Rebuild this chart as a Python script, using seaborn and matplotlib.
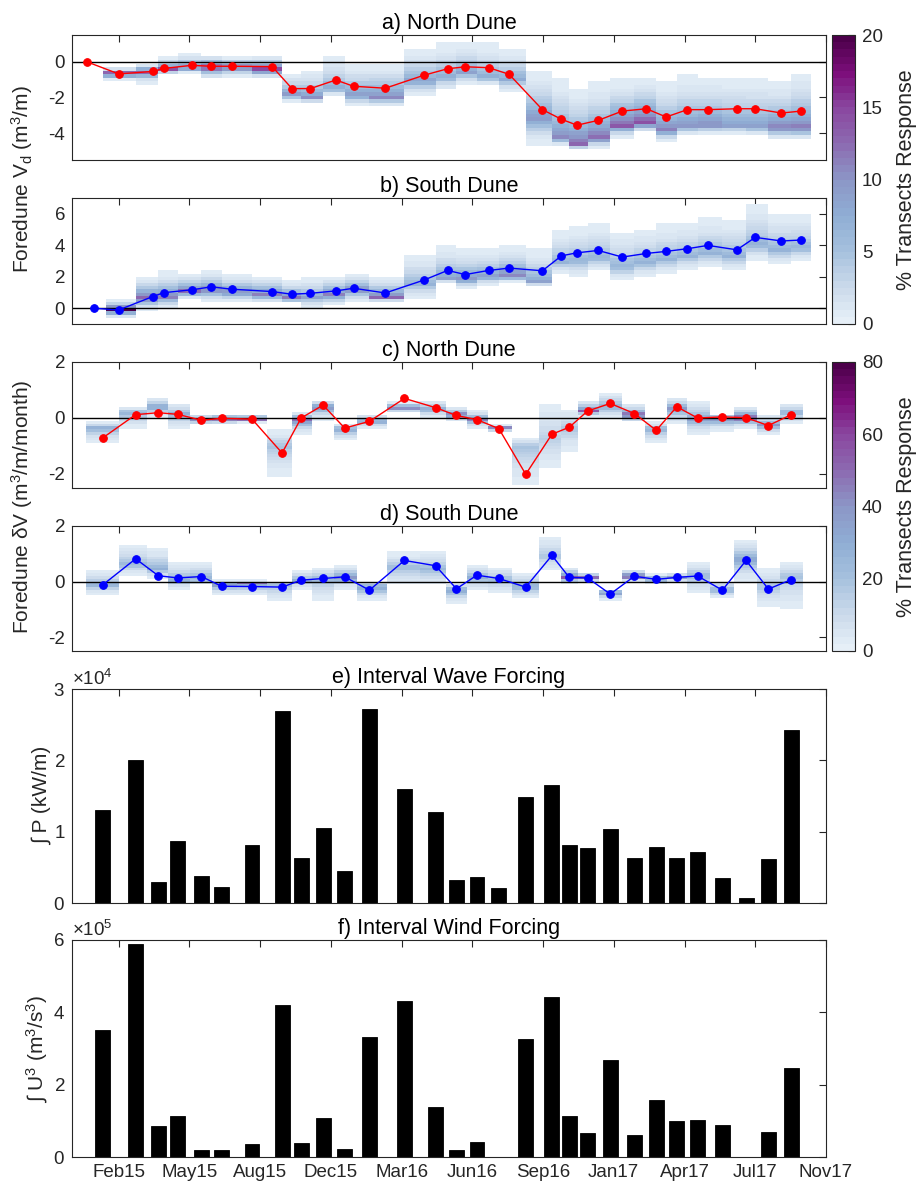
import numpy as np
import matplotlib
matplotlib.use("Agg")
import matplotlib.pyplot as plt
import seaborn as sns
from matplotlib.colors import LinearSegmentedColormap, ListedColormap

# ---------------- data ----------------
# survey dates: days since 2015-01-01
survey_day_north = [-10, 35, 83, 99, 138, 166, 195, 252, 280, 306, 342, 367, 412, 466, 500, 525,
                    558, 587, 634, 661, 683, 713, 747, 781, 809, 839, 868, 909, 935, 972, 1000]
survey_day_south = [0, 35, 83, 99, 138, 166, 195, 252, 280, 306, 342, 367, 412, 466, 500, 525,
                    558, 587, 634, 661, 683, 713, 747, 781, 809, 839, 868, 909, 935, 972, 1000]

north_vd = [0, -0.68, -0.54, -0.37, -0.20, -0.25, -0.25, -0.27, -1.50, -1.50, -1.02, -1.37, -1.48,
            -0.76, -0.39, -0.28, -0.33, -0.70, -2.68, -3.22, -3.55, -3.28, -2.76, -2.63, -3.09,
            -2.68, -2.68, -2.63, -2.63, -2.87, -2.76]
south_vd = [0, -0.11, 0.74, 0.99, 1.17, 1.36, 1.21, 1.06, 0.89, 0.95, 1.10, 1.27, 0.97, 1.78, 2.40,
            2.14, 2.40, 2.55, 2.38, 3.33, 3.52, 3.67, 3.25, 3.48, 3.61, 3.78, 3.99, 3.71, 4.50,
            4.27, 4.33]

north_rate = [-0.71, 0.12, 0.19, 0.13, -0.08, -0.01, -0.04, -1.25, 0.00, 0.46, -0.36, -0.12, 0.70,
              0.37, 0.09, -0.06, -0.38, -2.01, -0.58, -0.33, 0.25, 0.52, 0.16, -0.44, 0.40, 0.00,
              0.04, 0.01, -0.27, 0.12]
south_rate = [-0.12, 0.82, 0.21, 0.13, 0.18, -0.17, -0.18, -0.20, 0.05, 0.11, 0.17, -0.31, 0.76,
              0.57, -0.26, 0.23, 0.11, -0.20, 0.94, 0.15, 0.13, -0.45, 0.19, 0.08, 0.15, 0.20,
              -0.31, 0.76, -0.27, 0.07]

wave_forcing = [1.30e4, 2.01e4, 0.29e4, 0.87e4, 0.38e4, 0.22e4, 0.81e4, 2.69e4, 0.63e4, 1.05e4,
                0.45e4, 2.72e4, 1.60e4, 1.28e4, 0.32e4, 0.37e4, 0.21e4, 1.48e4, 1.65e4, 0.82e4,
                0.77e4, 1.04e4, 0.63e4, 0.79e4, 0.63e4, 0.71e4, 0.35e4, 0.07e4, 0.62e4, 2.43e4]
wind_forcing = [3.50e5, 5.90e5, 0.85e5, 1.13e5, 0.18e5, 0.18e5, 0.35e5, 4.20e5, 0.38e5, 1.07e5,
                0.22e5, 3.33e5, 4.30e5, 1.37e5, 0.18e5, 0.42e5, 0.0, 3.27e5, 4.42e5, 1.12e5,
                0.65e5, 2.67e5, 0.60e5, 1.57e5, 1.00e5, 1.03e5, 0.88e5, 0.0, 0.70e5, 2.45e5]

# transect-response distributions per column: extent (lo, hi), modal value and modal % of transects
a_lo = [-1.05, -1.2, -0.74, -0.6, -0.96, -0.83, -0.93, -2.28, -2.3, -1.94, -2.46, -2.5, -1.85, -1.57,
        -1.3, -1.3, -1.65, -4.63, -4.72, -4.94, -4.8, -4.26, -3.98, -4.44, -4.17, -4.07, -4.07,
        -4.17, -4.35, -4.37]
a_hi = [-0.3, -0.09, 0.24, 0.43, 0.37, 0.28, 0.33, -0.61, -0.46, 0.24, -0.09, -0.06, 0.69, 1.02,
        1.02, 1.0, 0.76, -0.55, -0.98, -1.48, -1.2, -0.98, -0.83, -1.2, -0.74, -0.87, -0.87, -0.87,
        -1.1, -0.61]
a_mode = [-0.65, -0.55, -0.42, -0.35, -0.3, -0.3, -0.45, -1.85, -2.05, -1.5, -1.9, -2.0, -1.1, -0.9,
          -0.6, -0.9, -1.0, -3.15, -4.26, -4.63, -4.31, -3.61, -3.46, -3.87, -3.61, -3.57, -3.6,
          -3.65, -3.74, -3.74]
a_pct = [17, 15, 15, 12, 16, 14, 17, 10, 11, 8, 10, 11, 9, 8, 9, 8, 8, 10, 11, 13, 13, 14, 15, 12,
         10, 11, 9, 9, 12, 12]

b_lo = [-0.57, -0.11, 0.0, 0.57, 0.42, 0.42, 0.36, 0.32, 0.1, 0.2, 0.42, 0.42, 0.64, 1.59, 1.27,
        1.5, 1.7, 1.33, 2.2, 2.06, 2.33, 1.8, 1.97, 2.2, 2.43, 2.6, 2.4, 3.08, 2.82, 3.08]
b_hi = [0.53, 2.06, 2.33, 2.22, 2.43, 2.22, 2.06, 1.8, 1.91, 2.06, 2.22, 2.0, 3.4, 3.97, 3.7, 3.7,
        3.93, 3.7, 4.98, 5.15, 5.3, 4.88, 5.09, 5.3, 5.45, 5.73, 5.6, 6.58, 5.94, 5.94]
b_mode = [-0.1, 0.64, 0.73, 1.06, 1.17, 1.0, 0.85, 0.64, 0.7, 0.85, 1.17, 0.64, 1.5, 1.9, 1.8, 2.0,
          2.0, 1.7, 2.9, 3.0, 3.2, 2.6, 2.9, 3.1, 3.3, 3.5, 3.3, 4.0, 3.7, 3.8]
b_pct = [20, 14, 12, 13, 12, 11, 12, 13, 9, 12, 11, 14, 7, 9, 11, 10, 12, 9, 7, 7, 7, 7, 7, 7, 7,
         7, 7, 7, 7, 7]

c_lo = [-0.86, -0.35, 0.01, -0.35, -0.2, -0.23, -0.15, -2.1, -0.56, -0.06, -0.8, -0.35, 0.16, 0.04,
        -0.08, -0.35, -0.49, -2.39, -1.76, -1.16, 0.04, -0.02, -0.14, -0.86, -0.24, -0.56, -0.47,
        -0.35, -0.58, -0.18]
c_hi = [-0.1, 0.42, 0.73, 0.54, 0.13, 0.13, 0.1, -0.44, 0.21, 0.63, -0.2, 0.13, 0.55, 0.63, 0.42,
        0.25, -0.25, -0.74, 0.54, 0.34, 0.63, 0.93, 0.51, -0.14, 0.73, 0.63, 0.13, 0.42, 0.13, 0.54]
c_mode = [-0.37, 0.2, 0.4, 0.15, -0.08, -0.02, -0.02, -1.0, -0.05, 0.4, -0.4, -0.1, 0.38, 0.3, 0.1,
          -0.05, -0.38, -1.0, -0.8, -0.4, 0.25, 0.4, 0.1, -0.4, 0.35, -0.05, 0.0, 0.0, -0.25, 0.2]
c_pct = [30, 30, 35, 30, 55, 60, 80, 20, 50, 45, 35, 40, 55, 35, 55, 45, 70, 20, 15, 20, 55, 30,
         60, 30, 40, 35, 45, 60, 40, 30]

d_lo = [-0.46, 0.21, 0.1, -0.29, -0.14, -0.46, -0.46, -0.68, -0.26, -0.68, -0.26, -0.68, -0.14,
        -0.14, -0.78, -0.32, -0.38, -0.58, 0.39, -0.06, 0.0, -0.65, 0.03, -0.06, 0.0, -0.38, -0.58,
        0.01, -0.86, -0.98]
d_hi = [0.42, 1.32, 1.2, 0.73, 0.73, 0.06, 0.06, 0.04, 0.42, 0.54, 0.6, 0.04, 1.05, 1.1, -0.08,
        0.61, 0.51, 0.33, 1.64, 0.54, 0.33, -0.26, 0.42, 0.25, 0.33, 0.73, 0.01, 1.52, 0.51, 0.73]
d_mode = [-0.12, 0.6, 0.45, 0.05, 0.1, -0.1, -0.05, -0.1, 0.05, 0.1, 0.15, -0.2, 0.5, 0.45, -0.3,
          0.15, 0.1, -0.2, 0.9, 0.15, 0.15, -0.4, 0.18, 0.1, 0.15, 0.2, -0.3, 0.8, -0.2, 0.2]
d_pct = [30, 25, 30, 30, 30, 45, 50, 25, 30, 25, 40, 35, 25, 25, 35, 30, 25, 30, 20, 55, 50, 50,
         70, 45, 35, 25, 30, 35, 20, 20]

tick_days = [35, 135, 235, 335, 435, 535, 635, 735, 835, 935, 1035]
tick_labels = ["Feb15", "May15", "Aug15", "Dec15", "Mar16", "Jun16", "Sep16", "Jan17", "Apr17",
               "Jul17", "Nov17"]

# ---------------- style ----------------
sns.set_theme(style="white")
plt.rcParams["font.family"] = ["Liberation Sans", "DejaVu Sans"]
plt.rcParams["axes.unicode_minus"] = False
plt.rcParams["mathtext.fontset"] = "custom"
plt.rcParams["mathtext.rm"] = "Liberation Sans"
plt.rcParams["mathtext.it"] = "Liberation Sans:italic"
plt.rcParams["mathtext.default"] = "regular"
TXT = "#262626"

cols = ["#e6eff7", "#c8d8ea", "#a5c0dd", "#8fadd4", "#8c96c6", "#8c6bb1", "#8a48a0",
        "#7d0f7c", "#4d004b"]
cmap = ListedColormap(LinearSegmentedColormap.from_list("bupu_m", cols)(np.linspace(0, 1, 40)))

W, H = 922, 1184
fig = plt.figure(figsize=(W / 100, H / 100), dpi=100)


def rect(x0, y0, x1, y1):
    return [x0 / W, 1 - y1 / H, (x1 - x0) / W, (y1 - y0) / H]


def style_axes(ax, xlabels=False):
    ax.set_xlim(-31, 1035)
    ax.set_xticks(tick_days)
    ax.set_xticklabels(tick_labels if xlabels else [])
    ax.tick_params(direction="in", top=True, right=True, length=5, width=0.8, colors=TXT,
                   labelsize=13.5, pad=5)
    for s in ax.spines.values():
        s.set_linewidth(0.8)
        s.set_color(TXT)
    ax.set_xlabel("")
    ax.set_ylabel("")


def mids(v):
    v = np.asarray(v, float)
    return 0.5 * (v[:-1] + v[1:])


def edges_from_centers(c):
    c = np.asarray(c, float)
    m = mids(c)
    return np.concatenate([[c[0] - (m[0] - c[0])], m, [c[-1] + (c[-1] - m[-1])]])


def heat_grid(lo, hi, mode, pct, y_edges, floor):
    yc = mids(y_edges)
    Z = np.zeros((len(yc), len(lo)))
    for j, (l, h, p, k) in enumerate(zip(lo, hi, mode, pct)):
        d = np.where(yc < p, (p - yc) / max(p - l, 1e-6), (yc - p) / max(h - p, 1e-6))
        w = np.clip(1 - d, 0, 1) ** 2
        inside = (yc >= l - 1e-9) & (yc <= h + 1e-9)
        Z[inside, j] = floor + (k - floor) * w[inside]
    return np.ma.masked_less_equal(Z, 0)


rate_day = mids(survey_day_north)

# ---------------- panel a ----------------
ax_a = fig.add_axes(rect(72, 35, 826, 160))
xe_a = np.concatenate([mids(survey_day_north),
                       [survey_day_north[-1] + (survey_day_north[-1] - mids(survey_day_north)[-1])]])
ye_a = np.arange(-5.5, 1.5001, 0.2)
mesh1 = ax_a.pcolormesh(xe_a, ye_a, heat_grid(a_lo, a_hi, a_mode, a_pct, ye_a, 0.6),
                        cmap=cmap, vmin=0, vmax=20, shading="flat", zorder=1)
ax_a.axhline(0, color="black", lw=1, zorder=2)
sns.lineplot(x=survey_day_north, y=north_vd, ax=ax_a, color="red", marker="o", markersize=5.5,
             markeredgecolor="red", linewidth=1, zorder=4)
ax_a.set_ylim(-5.5, 1.5)
ax_a.set_yticks([-4, -2, 0])
style_axes(ax_a)
ax_a.set_title("a) North Dune", fontsize=15.5, color="black", pad=4)

# ---------------- panel b ----------------
ax_b = fig.add_axes(rect(72, 198, 826, 324))
xe_b = np.concatenate([mids(survey_day_south),
                       [survey_day_south[-1] + (survey_day_south[-1] - mids(survey_day_south)[-1])]])
ye_b = np.arange(-1.0, 7.0001, 0.2)
ax_b.pcolormesh(xe_b, ye_b, heat_grid(b_lo, b_hi, b_mode, b_pct, ye_b, 0.6),
                cmap=cmap, vmin=0, vmax=20, shading="flat", zorder=1)
ax_b.axhline(0, color="black", lw=1, zorder=2)
sns.lineplot(x=survey_day_south, y=south_vd, ax=ax_b, color="blue", marker="o", markersize=5.5,
             markeredgecolor="blue", linewidth=1, zorder=4)
ax_b.set_ylim(-1, 7)
ax_b.set_yticks([0, 2, 4, 6])
style_axes(ax_b)
ax_b.set_title("b) South Dune", fontsize=15.5, color="black", pad=4)

# ---------------- panel c ----------------
xe_r = edges_from_centers(rate_day)
ye_r = np.arange(-2.5, 2.0001, 0.1)
ax_c = fig.add_axes(rect(72, 362, 826, 488))
mesh2 = ax_c.pcolormesh(xe_r, ye_r, heat_grid(c_lo, c_hi, c_mode, c_pct, ye_r, 3),
                        cmap=cmap, vmin=0, vmax=80, shading="flat", zorder=1)
ax_c.axhline(0, color="black", lw=1, zorder=2)
sns.lineplot(x=rate_day, y=north_rate, ax=ax_c, color="red", marker="o", markersize=5.5,
             markeredgecolor="red", linewidth=1, zorder=4)
ax_c.set_ylim(-2.5, 2)
ax_c.set_yticks([-2, 0, 2])
style_axes(ax_c)
ax_c.set_title("c) North Dune", fontsize=15.5, color="black", pad=4)

# ---------------- panel d ----------------
ax_d = fig.add_axes(rect(72, 526, 826, 651))
ax_d.pcolormesh(xe_r, ye_r, heat_grid(d_lo, d_hi, d_mode, d_pct, ye_r, 3),
                cmap=cmap, vmin=0, vmax=80, shading="flat", zorder=1)
ax_d.axhline(0, color="black", lw=1, zorder=2)
sns.lineplot(x=rate_day, y=south_rate, ax=ax_d, color="blue", marker="o", markersize=5.5,
             markeredgecolor="blue", linewidth=1, zorder=4)
ax_d.set_ylim(-2.5, 2)
ax_d.set_yticks([-2, 0, 2])
style_axes(ax_d)
ax_d.set_title("d) South Dune", fontsize=15.5, color="black", pad=4)

# ---------------- panel e ----------------
ax_e = fig.add_axes(rect(72, 689, 826, 903))
ax_e.bar(rate_day, wave_forcing, width=21, color="black", edgecolor="black", linewidth=0.6,
         zorder=2)
ax_e.set_ylim(0, 3e4)
ax_e.set_yticks([0, 1e4, 2e4, 3e4])
ax_e.ticklabel_format(axis="y", style="sci", scilimits=(0, 0), useMathText=True)
style_axes(ax_e)
ax_e.yaxis.get_offset_text().set_fontsize(13.5)
ax_e.yaxis.get_offset_text().set_color(TXT)
ax_e.set_title("e) Interval Wave Forcing", fontsize=15.5, color="black", pad=4)

# ---------------- panel f ----------------
ax_f = fig.add_axes(rect(72, 940, 826, 1157))
ax_f.bar(rate_day, wind_forcing, width=21, color="black", edgecolor="black", linewidth=0.6,
         zorder=2)
ax_f.set_ylim(0, 6e5)
ax_f.set_yticks([0, 2e5, 4e5, 6e5])
ax_f.ticklabel_format(axis="y", style="sci", scilimits=(0, 0), useMathText=True)
style_axes(ax_f, xlabels=True)
ax_f.yaxis.get_offset_text().set_fontsize(13.5)
ax_f.yaxis.get_offset_text().set_color(TXT)
ax_f.set_title("f) Interval Wind Forcing", fontsize=15.5, color="black", pad=4)

# ---------------- colorbars ----------------
for mesh, (y0, y1), ticks in [(mesh1, (35, 324), [0, 5, 10, 15, 20]),
                              (mesh2, (362, 651), [0, 20, 40, 60, 80])]:
    cax = fig.add_axes(rect(832, y0, 855, y1))
    cb = fig.colorbar(mesh, cax=cax, ticks=ticks)
    cax.tick_params(direction="in", length=5, width=0.8, colors=TXT, labelsize=13.5, pad=5)
    cb.outline.set_edgecolor(TXT)
    cb.outline.set_linewidth(0.8)
    fig.text(906 / W, 1 - (y0 + y1) / 2 / H, "% Transects Response", rotation=90,
             ha="center", va="center", fontsize=15.5, color=TXT)

# ---------------- y labels ----------------
fig.text(22 / W, 1 - 179.5 / H, r"Foredune V$_{d}$ (m$^{3}$/m)", rotation=90,
         ha="center", va="center", fontsize=15, color=TXT)
fig.text(22 / W, 1 - 506.5 / H, "Foredune δV (m$^{3}$/m/month)", rotation=90,
         ha="center", va="center", fontsize=15, color=TXT)
fig.text(42 / W, 1 - 796 / H, "∫ P (kW/m)", rotation=90,
         ha="center", va="center", fontsize=15, color=TXT)
fig.text(37 / W, 1 - 1048.5 / H, "∫ U$^{3}$ (m$^{3}$/s$^{3}$)", rotation=90,
         ha="center", va="center", fontsize=15, color=TXT)

fig.savefig("out.png", dpi=100)
